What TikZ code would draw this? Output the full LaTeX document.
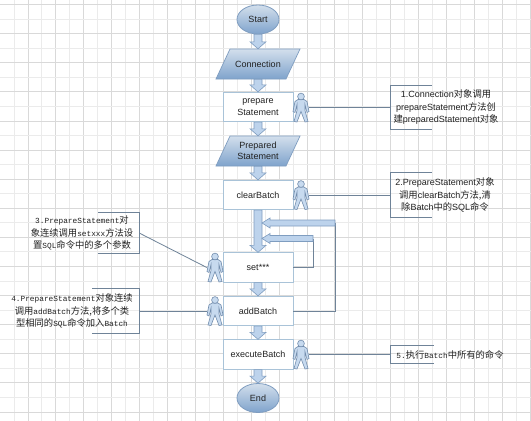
\documentclass[tikz,border=0pt]{standalone}
\usepackage{fontspec}
\setmainfont{Liberation Sans}
\newfontfamily\monolat{Liberation Mono}
\newfontfamily\cjkfam{Noto Sans CJK SC}
\usetikzlibrary{shapes.geometric,calc}
\newcommand{\zh}[1]{{\fontsize{9.3}{12.5}\selectfont\cjkfam #1}}
\definecolor{bord}{HTML}{7F9DC0}
\definecolor{lineclr}{HTML}{6F8398}
\definecolor{boxbord}{HTML}{A9C3D8}
\definecolor{fillTop}{HTML}{D3DFEC}
\definecolor{fillBot}{HTML}{7FA3CC}
\definecolor{barfill}{HTML}{BDD3EC}
\definecolor{txt}{HTML}{222222}
\tikzset{
  x=1pt,y=-1pt,
  every node/.style={text=txt},
  terminal/.style={ellipse,draw=bord,line width=0.8pt,top color=fillTop,bottom color=fillBot,minimum width=42pt,minimum height=29pt,inner sep=0pt,font=\fontsize{9}{11}\selectfont},
  iolabel/.style={rectangle,minimum width=70pt,minimum height=30pt,inner sep=0pt,align=center,font=\fontsize{9}{11.5}\selectfont},
  ioshape/.style={draw=bord,line width=0.7pt,top color=fillTop,bottom color=fillBot},
  procbox/.style={rectangle,draw=boxbord,line width=0.8pt,fill=white,minimum width=70pt,minimum height=29.5pt,inner sep=0pt,align=center,font=\fontsize{9}{11.5}\selectfont},
  barshape/.style={draw=bord,line width=0.6pt,fill=barfill},
  thinline/.style={draw=lineclr,line width=0.8pt},
  bracketline/.style={draw=lineclr,line width=0.8pt},
  sanslabel/.style={inner sep=0pt,align=center,font=\fontsize{9}{12.5}\selectfont},
  monolabel/.style={inner sep=0pt,align=center,font=\fontsize{7.8}{12.5}\selectfont\monolat},
  manbox/.style={inner sep=0pt,minimum width=16pt,minimum height=29pt},
  manshape/.style={draw=bord!90!black,line width=0.6pt,fill=barfill!85!white},
}
\newcommand{\downbar}[2]{%
  \draw[barshape] let \p1=(#1),\p2=(#2) in
    (\x1-4pt,\y1) -- (\x1+4pt,\y1) -- (\x1+4pt,\y2+7pt) -- (\x1+8pt,\y2+7pt) -- (\x1,\y2) -- (\x1-8pt,\y2+7pt) -- (\x1-4pt,\y2+7pt) -- cycle;}
\newcommand{\leftbar}[2]{%
  \draw[barshape] let \p1=(#1),\p2=(#2) in
    (\x1,\y1+3pt) -- (\x2+8pt,\y1+3pt) -- (\x2+8pt,\y1+5pt) -- (\x2,\y1) -- (\x2+8pt,\y1-5pt) -- (\x2+8pt,\y1-3pt) -- (\x1,\y1-3pt) -- cycle;}
\newcommand{\man}[2]{%
  \node[manbox] (#1) at (#2) {};
  \begin{scope}[shift={(#2)}]
    \draw[manshape] (-3,-8) -- (3,-8) -- (6,-6) -- (8,4) -- (6,5) -- (4,-3) -- (4,3) -- (7,14) -- (4,14.5) -- (0,4) -- (-4,14.5) -- (-7,14) -- (-4,3) -- (-4,-3) -- (-6,5) -- (-8,4) -- (-6,-6) -- cycle;
    \draw[manshape] (0,-11) circle (3.4);
  \end{scope}}
\newcommand{\iobox}[3]{%
  \begin{scope}[shift={(#2)},y=1pt]
    \path[ioshape] (-28,15) -- (42,15) -- (28,-15) -- (-42,-15) -- cycle;
  \end{scope}
  \node[iolabel] (#1) at (#2) {#3};}
\begin{document}
\begin{tikzpicture}
\useasboundingbox (0,0) rectangle (531,421);
\fill[white] (0,0) rectangle (531,421);
% grid
\foreach \k in {1,...,38}{
  \pgfmathsetmacro{\gx}{13.95*\k}
  \pgfmathtruncatemacro{\ev}{mod(\k,2)}
  \ifnum\ev=0
    \draw[black!15,line width=0.7pt] (\gx,0) -- (\gx,421);
  \else
    \draw[black!8,line width=0.9pt] (\gx,0) -- (\gx,421);
  \fi}
\foreach \k in {0,...,28}{
  \pgfmathsetmacro{\gy}{4.5+14.55*\k}
  \pgfmathtruncatemacro{\ev}{mod(\k,2)}
  \ifnum\ev=0
    \draw[black!15,line width=0.7pt] (0,\gy) -- (531,\gy);
  \else
    \draw[black!8,line width=0.9pt] (0,\gy) -- (531,\gy);
  \fi}
% flow shapes
\node[terminal] (start) at (258,19.5) {Start};
\iobox{conn}{258,64}{Connection}
\node[procbox] (prep) at (258,107) {prepare\\Statement};
\iobox{preps}{258,151}{Prepared\\Statement}
\node[procbox] (clear) at (258,195) {clearBatch};
\node[procbox] (setn) at (258,267.5) {set***};
\node[procbox] (addb) at (258,311) {addBatch};
\node[procbox] (exec) at (258,354.5) {executeBatch};
\node[terminal] (endn) at (258,398) {End};
% block arrows
\downbar{start.south}{conn.north}
\downbar{conn.south}{prep.north}
\downbar{prep.south}{preps.north}
\downbar{preps.south}{clear.north}
\downbar{clear.south}{setn.north}
\downbar{setn.south}{addb.north}
\downbar{addb.south}{exec.north}
\downbar{exec.south}{endn.north}
% feedback loops
\coordinate (fbouter) at (335,223);
\coordinate (fbinner) at (313,238.5);
\coordinate (joinA) at (262,223);
\coordinate (joinB) at (262,238.5);
\draw[thinline] (addb.east) -| (fbouter);
\draw[thinline] (setn.east) -| (fbinner);
\leftbar{fbouter}{joinA}
\leftbar{fbinner}{joinB}
% people
\man{m1}{301,107.5}
\man{m2}{301,195}
\man{m3}{215,267.5}
\man{m4}{215,311}
\man{m5}{301,354.5}
% notes
\node[sanslabel,minimum width=110pt,minimum height=43pt] (n1) at (446,107.5) {1.Connection\zh{对象调用}\\prepareStatement\zh{方法创}\\\zh{建}preparedStatement\zh{对象}};
\node[sanslabel,minimum width=108pt,minimum height=44pt] (n2) at (445,195) {2.PrepareStatement\zh{对象}\\\zh{调用}clearBatch\zh{方法,清}\\\zh{除}Batch\zh{中的}SQL\zh{命令}};
\node[monolabel,minimum width=114pt,minimum height=41pt] (n3) at (82,233) {3.PrepareStatement\zh{对}\\\zh{象连续调用}setxxx\zh{方法设}\\\zh{置}SQL\zh{命令中的多个参数}};
\node[monolabel,minimum width=134pt,minimum height=44pt] (n4) at (72,311) {4.PrepareStatement\zh{对象连续}\\\zh{调用}addBatch\zh{方法,将多个类}\\\zh{型相同的}SQL\zh{命令加入}Batch};
\node[monolabel,minimum width=118pt,minimum height=18pt] (n5) at (450,354.5) {5.\zh{执行}Batch\zh{中所有的命令}};
% brackets
\draw[bracketline] ([xshift=41pt]n1.north west) -- (n1.north west) -- (n1.south west) -- ([xshift=41pt]n1.south west);
\draw[bracketline] ([xshift=41pt]n2.north west) -- (n2.north west) -- (n2.south west) -- ([xshift=41pt]n2.south west);
\draw[bracketline] ([xshift=-41pt]n3.north east) -- (n3.north east) -- (n3.south east) -- ([xshift=-41pt]n3.south east);
\draw[bracketline] ([xshift=-47pt]n4.north east) -- (n4.north east) -- (n4.south east) -- ([xshift=-47pt]n4.south east);
\draw[bracketline] ([xshift=43pt]n5.north west) -- (n5.north west) -- (n5.south west) -- ([xshift=43pt]n5.south west);
% connectors
\draw[thinline] (m1.east) -- (n1.west);
\draw[thinline] (m2.east) -- (n2.west);
\draw[thinline] (n3.east) -- (m3.west);
\draw[thinline] (n4.east) -- (m4.west);
\draw[thinline] (m5.east) -- (n5.west);
\end{tikzpicture}
\end{document}
